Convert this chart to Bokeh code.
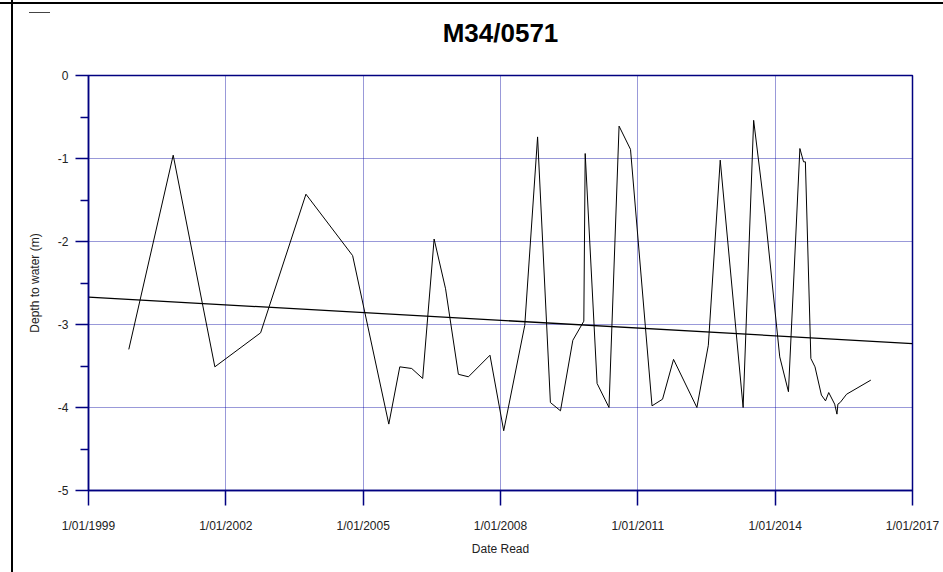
from bokeh.plotting import figure
from bokeh.models import FixedTicker, Range1d, LinearAxis
from bokeh.layouts import column
from bokeh.embed import file_html
from bokeh.resources import INLINE

# ---- data (decimal year, depth to water in m) ----
dates = [1999.88, 2000.85, 2001.76, 2002.76, 2003.75, 2004.77, 2005.56, 2005.80,
         2006.06, 2006.30, 2006.55, 2006.80, 2007.08, 2007.30, 2007.77, 2008.07,
         2008.53, 2008.81, 2009.09, 2009.31, 2009.58, 2009.82, 2009.85, 2010.11,
         2010.37, 2010.59, 2010.84, 2011.31, 2011.54, 2011.78, 2012.29, 2012.54,
         2012.80, 2013.30, 2013.53, 2013.78, 2014.10, 2014.29, 2014.54, 2014.62,
         2014.66, 2014.78, 2014.87, 2015.01, 2015.10, 2015.17, 2015.30, 2015.35,
         2015.37, 2015.42, 2015.56, 2016.09]
depth = [-3.30, -0.96, -3.51, -3.10, -1.43, -2.17, -4.20, -3.51,
         -3.53, -3.65, -1.97, -2.57, -3.60, -3.63, -3.37, -4.28,
         -3.01, -0.74, -3.94, -4.04, -3.19, -2.96, -0.94, -3.71,
         -4.00, -0.61, -0.89, -3.98, -3.90, -3.42, -4.00, -3.25,
         -1.02, -4.00, -0.54, -1.67, -3.39, -3.81, -0.88, -1.04,
         -1.04, -3.41, -3.51, -3.85, -3.92, -3.82, -3.96, -4.08,
         -3.96, -3.94, -3.84, -3.67]

trend_x = [1999.0, 2017.0]
trend_y = [-2.67, -3.23]

x_ticks = [1999, 2002, 2005, 2008, 2011, 2014, 2017]
x_tick_labels = ["1/01/1999", "1/01/2002", "1/01/2005", "1/01/2008",
                 "1/01/2011", "1/01/2014", "1/01/2017"]
y_ticks = [-5, -4, -3, -2, -1, 0]
y_minor = [-4.5, -3.5, -2.5, -1.5, -0.5]

title_text = "M34/0571"
x_label = "Date Read"
y_label = "Depth to water (m)"

FONT = "Liberation Sans"
NAVY = "#000080"

W, H = 943, 572
p = figure(width=W, height=H, output_backend="svg", toolbar_location=None,
           x_range=Range1d(1999, 2017), y_range=Range1d(-5, 0),
           min_border_left=88, min_border_right=31,
           min_border_top=75, min_border_bottom=82)

p.outline_line_color = NAVY
p.outline_line_width = 1.5
p.background_fill_color = "white"
p.border_fill_color = "white"
p.border_fill_alpha = 0.0

# keep references to the standard axes before adding the title axis
xa = p.below[0]
ya = p.left[0]

# title, drawn as the label of a bare axis above the plot
ta = LinearAxis(ticker=FixedTicker(ticks=[]))
ta.axis_line_alpha = 0
ta.major_tick_out = 0
ta.major_tick_in = 0
ta.minor_tick_out = 0
ta.minor_tick_in = 0
ta.major_label_text_font_size = "0px"
ta.major_label_standoff = 0
ta.axis_label = title_text
ta.axis_label_text_font = FONT
ta.axis_label_text_font_size = "26px"
ta.axis_label_text_font_style = "bold"
ta.axis_label_text_color = "black"
ta.axis_label_standoff = 28
p.add_layout(ta, "above")

# x axis
xa.ticker = FixedTicker(ticks=x_ticks)
xa.major_label_overrides = {t: l for t, l in zip(x_ticks, x_tick_labels)}
xa.major_tick_in = 0
xa.major_tick_out = 15
xa.minor_tick_out = 0
xa.minor_tick_in = 0
xa.axis_line_color = NAVY
xa.axis_line_width = 1.5
xa.major_tick_line_color = NAVY
xa.major_tick_line_width = 1.5
xa.major_label_text_font = FONT
xa.major_label_text_font_size = "12px"
xa.major_label_text_color = "#222222"
xa.major_label_standoff = 13
xa.axis_label = x_label
xa.axis_label_text_font = FONT
xa.axis_label_text_font_size = "12px"
xa.axis_label_text_font_style = "normal"
xa.axis_label_text_color = "#222222"
xa.axis_label_standoff = 6

# y axis
ya.ticker = FixedTicker(ticks=y_ticks, minor_ticks=y_minor)
ya.major_label_overrides = {t: str(t) for t in y_ticks}
ya.major_tick_in = 0
ya.major_tick_out = 13
ya.minor_tick_in = 0
ya.minor_tick_out = 8
ya.axis_line_color = NAVY
ya.axis_line_width = 1.5
ya.major_tick_line_color = NAVY
ya.major_tick_line_width = 1.5
ya.minor_tick_line_color = NAVY
ya.minor_tick_line_width = 1.5
ya.major_label_text_font = FONT
ya.major_label_text_font_size = "12px"
ya.major_label_text_color = "#222222"
ya.major_label_standoff = 7
ya.axis_label = y_label
ya.axis_label_text_font = FONT
ya.axis_label_text_font_size = "12px"
ya.axis_label_text_font_style = "normal"
ya.axis_label_text_color = "#222222"
ya.axis_label_standoff = 13

# grids
for g in (p.xgrid[0], p.ygrid[0]):
    g.grid_line_color = "#0000a0"
    g.grid_line_dash = "1 1"
    g.grid_line_width = 1
    g.grid_line_alpha = 0.8
p.xgrid[0].ticker = FixedTicker(ticks=x_ticks)
p.ygrid[0].ticker = FixedTicker(ticks=y_ticks)

# data
p.line(dates, depth, line_color="black", line_width=1)
p.line(trend_x, trend_y, line_color="black", line_width=1.3)

# page frame lines drawn as background of the wrapping layout
lay = column(p, styles={
    "background": (
        "linear-gradient(#000, #000) 11px 0px / 2px 100% no-repeat, "
        "linear-gradient(#000, #000) 0px 2px / 100% 2px no-repeat, "
        "linear-gradient(#444, #444) 29px 12px / 21px 1px no-repeat, "
        "#ffffff"
    )
})

open("out.html", "w").write(file_html(lay, INLINE))
